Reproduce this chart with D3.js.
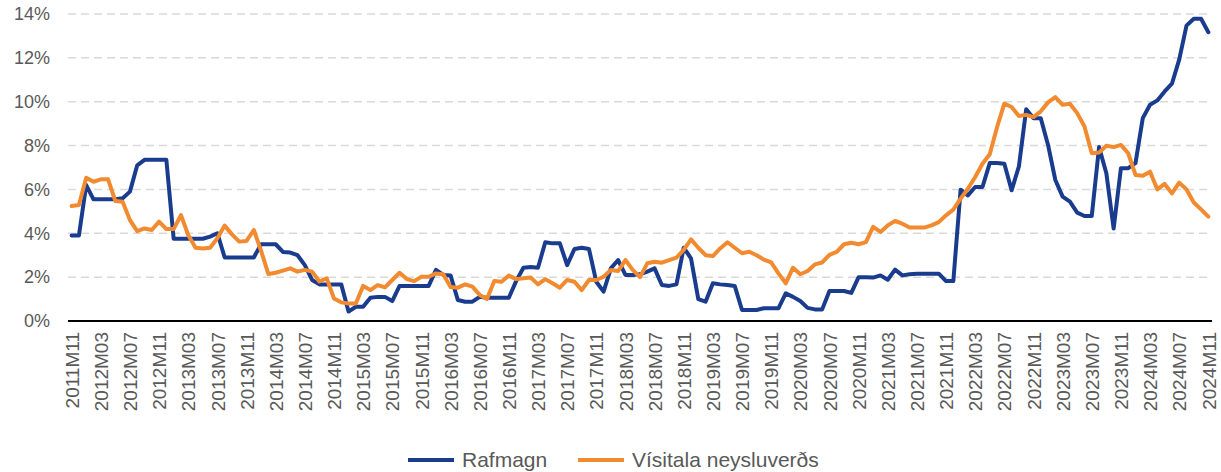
<!DOCTYPE html>
<html>
<head>
<meta charset="utf-8">
<script src="https://cdn.jsdelivr.net/npm/d3@7"></script>
<style>
  html, body { margin: 0; padding: 0; background: #ffffff; }
  svg text { font-family: "Liberation Sans", Arial, sans-serif; fill: #595959; }
</style>
</head>
<body>
<svg id="chart" width="1221" height="472"></svg>
<script>
// ---- data ----
const startYear = 2011, startMonth = 11, nMonths = 157;
const categories = [];
for (let k = 0; k < nMonths; k++) {
  const m = startMonth - 1 + k;
  const yr = startYear + Math.floor(m / 12);
  const mo = (m % 12) + 1;
  categories.push(yr + "M" + String(mo).padStart(2, "0"));
}
const tickLabels = categories.filter((c, i) => i % 4 === 0);

const rafmagn = [
  3.9, 3.9, 6.2, 5.55, 5.55, 5.55, 5.55, 5.6, 5.9, 7.1, 7.35, 7.35,
  7.35, 7.35, 3.75, 3.75, 3.75, 3.75, 3.75, 3.85, 4.0, 2.9, 2.9, 2.9,
  2.9, 2.9, 3.5, 3.5, 3.5, 3.15, 3.12, 3.0, 2.55, 1.87, 1.67, 1.67,
  1.67, 1.67, 0.43, 0.65, 0.65, 1.06, 1.1, 1.1, 0.91, 1.6, 1.6, 1.6,
  1.6, 1.6, 2.33, 2.1, 2.08, 0.96, 0.88, 0.88, 1.1, 1.06, 1.06, 1.06,
  1.06, 1.82, 2.43, 2.46, 2.43, 3.59, 3.54, 3.54, 2.55, 3.28, 3.34, 3.28,
  1.79, 1.34, 2.4, 2.78, 2.1, 2.1, 2.13, 2.25, 2.4, 1.64, 1.6, 1.67,
  3.34, 2.86, 1.0, 0.88, 1.72, 1.67, 1.64, 1.6, 0.5, 0.5, 0.5, 0.58,
  0.58, 0.58, 1.26, 1.1, 0.91, 0.6, 0.53, 0.53, 1.37, 1.37, 1.37, 1.28,
  2.0, 2.0, 1.98, 2.08, 1.88, 2.34, 2.08, 2.13, 2.16, 2.16, 2.16, 2.16,
  1.82, 1.82, 5.99, 5.73, 6.11, 6.11, 7.2, 7.2, 7.17, 5.96, 7.05, 9.66,
  9.25, 9.25, 8.03, 6.43, 5.67, 5.44, 4.94, 4.79, 4.79, 7.93, 6.74, 4.22,
  6.97, 6.97, 7.2, 9.25, 9.86, 10.06, 10.47, 10.82, 11.92, 13.47, 13.78, 13.78,
  13.17
];

const visitala = [
  5.24, 5.29, 6.53, 6.35, 6.46, 6.46, 5.47, 5.44, 4.6, 4.1, 4.22, 4.15,
  4.53, 4.19, 4.19, 4.83, 3.92, 3.34, 3.31, 3.34, 3.77, 4.35, 3.95, 3.62,
  3.65, 4.15, 3.2, 2.14, 2.2, 2.3, 2.4, 2.25, 2.33, 2.25, 1.8, 1.95,
  1.03, 0.85, 0.8, 0.8, 1.6, 1.41, 1.64, 1.53, 1.87, 2.2, 1.91, 1.82,
  2.02, 2.02, 2.17, 2.13, 1.55, 1.52, 1.67, 1.57, 1.19, 1.0, 1.82, 1.79,
  2.07, 1.91, 1.95, 1.98, 1.67, 1.91, 1.72, 1.52, 1.87, 1.79, 1.41, 1.87,
  1.87, 2.02, 2.33, 2.28, 2.78, 2.33, 2.0, 2.63, 2.7, 2.66, 2.78, 2.89,
  3.24, 3.72, 3.34, 3.0, 2.96, 3.31, 3.59, 3.34, 3.09, 3.16, 3.0, 2.8,
  2.67, 2.17, 1.72, 2.43, 2.13, 2.28, 2.58, 2.67, 3.02, 3.15, 3.5, 3.57,
  3.5, 3.6, 4.29, 4.06, 4.36, 4.56, 4.44, 4.26, 4.26, 4.26, 4.36, 4.51,
  4.82, 5.08, 5.58, 6.03, 6.57, 7.17, 7.6, 8.84, 9.91, 9.76, 9.35, 9.4,
  9.3, 9.56, 9.97, 10.21, 9.86, 9.91, 9.48, 8.87, 7.65, 7.68, 7.99, 7.93,
  8.03, 7.65, 6.66, 6.62, 6.81, 6.0, 6.25, 5.82, 6.31, 6.0, 5.4, 5.09,
  4.76
];

const yTicks = [0, 2, 4, 6, 8, 10, 12, 14];
const seriesNames = ["Rafmagn", "Vísitala neysluverðs"];
const seriesColors = ["#1a3c8e", "#f28a30"];

// ---- layout ----
const plotLeft = 68, plotRight = 1212, plotTop = 14, plotBottom = 321;
const svg = d3.select("#chart");

const x = d3.scalePoint().domain(categories).range([plotLeft, plotRight]).padding(0.5);
const y = d3.scaleLinear().domain([0, 14]).range([plotBottom, plotTop]);

// gridlines
svg.append("g").selectAll("line")
  .data(yTicks.filter(t => t > 0))
  .join("line")
  .attr("x1", plotLeft).attr("x2", plotRight)
  .attr("y1", d => y(d)).attr("y2", d => y(d))
  .attr("stroke", "#d9d9d9").attr("stroke-width", 1.5)
  .attr("stroke-dasharray", "8,5");

// y labels
const yAxis = d3.axisLeft(y).tickValues(yTicks).tickFormat(d => d + "%").tickSize(0).tickPadding(0);
const gy = svg.append("g").attr("transform", "translate(50,0)").call(yAxis);
gy.select(".domain").remove();
gy.selectAll("text").style("font-size", "18px").attr("fill", "#595959")
  .style("font-family", '"Liberation Sans", Arial, sans-serif');

// x axis labels
const xAxis = d3.axisBottom(x).tickValues(tickLabels).tickSize(0).tickPadding(0);
const gx = svg.append("g").attr("transform", `translate(0,${plotBottom})`).call(xAxis);
gx.select(".domain").remove();
gx.selectAll("text")
  .style("font-size", "19px").attr("fill", "#595959")
  .style("font-family", '"Liberation Sans", Arial, sans-serif')
  .attr("text-anchor", "end")
  .attr("transform", "rotate(-90)")
  .attr("x", -11).attr("y", 0).attr("dy", "0.35em");

// lines
const series = [rafmagn, visitala];
const line = d3.line().x((d, i) => x(categories[i])).y(d => y(d));
series.forEach((s, k) => {
  svg.append("path").datum(s)
    .attr("fill", "none")
    .attr("stroke", seriesColors[k])
    .attr("stroke-width", 4)
    .attr("stroke-linejoin", "round")
    .attr("stroke-linecap", "round")
    .attr("d", line);
});

// axis line
svg.append("line").attr("x1", plotLeft).attr("x2", plotRight)
  .attr("y1", y(0)).attr("y2", y(0))
  .attr("stroke", "#000").attr("stroke-width", 2);

// legend
const legendItems = [
  { name: seriesNames[0], color: seriesColors[0], x0: 408 },
  { name: seriesNames[1], color: seriesColors[1], x0: 578 }
];
const lg = svg.append("g");
legendItems.forEach(it => {
  lg.append("line").attr("x1", it.x0).attr("x2", it.x0 + 46)
    .attr("y1", 460).attr("y2", 460)
    .attr("stroke", it.color).attr("stroke-width", 4);
  lg.append("text").attr("x", it.x0 + 54).attr("y", 460).attr("dy", "0.35em")
    .style("font-size", "21px").text(it.name);
});
</script>
</body>
</html>
